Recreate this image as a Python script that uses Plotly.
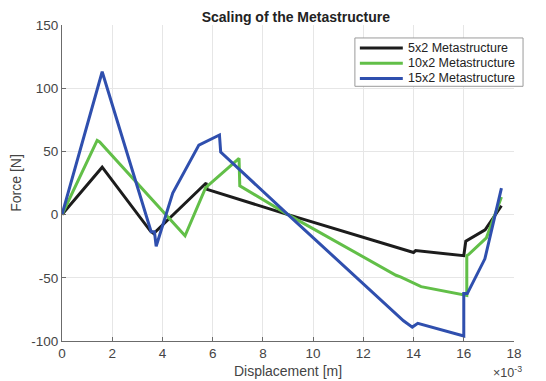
import plotly.graph_objects as go

# Displacement in units of 1e-3 m, force in N
x_5x2 = [0, 1.6, 3.52, 3.65, 5.74, 5.78, 9.0, 14.0, 14.08, 16.0, 16.08, 16.85, 17.5]
y_5x2 = [0, 37.5, -13, -15, 25, 20, 0, -30, -28.5, -32.5, -21, -12, 7]

x_10x2 = [0, 1.4, 1.5, 4.9, 5.72, 7.05, 7.08, 9.0, 13.3, 13.5, 14.3, 16.0, 16.12, 16.12, 16.2, 16.9, 17.5]
y_10x2 = [0, 58.7, 57.5, -16.8, 21.3, 44.5, 22.7, 0, -48, -49.5, -57, -63.7, -64, -32.5, -31.5, -18.4, 14]

x_15x2 = [0, 1.6, 3.55, 3.68, 3.75, 4.41, 5.45, 6.27, 6.32, 9.0, 13.6, 13.95, 14.17, 16.0, 16.0, 16.14, 16.84, 17.5]
y_15x2 = [0, 113, -13.5, -13.5, -25, 17, 55, 63, 49.5, 0, -84, -89, -86, -96, -62.5, -62.5, -35, 21]

series_names = ["5x2 Metastructure", "10x2 Metastructure", "15x2 Metastructure"]
series_colors = ["#1c1c1c", "#62bf48", "#2f4fae"]

x_ticks = [0, 2, 4, 6, 8, 10, 12, 14, 16, 18]
y_ticks = [-100, -50, 0, 50, 100, 150]

FONT = "Liberation Sans, Arial, sans-serif"

fig = go.Figure()
for xs, ys, name, col in zip([x_5x2, x_10x2, x_15x2], [y_5x2, y_10x2, y_15x2], series_names, series_colors):
    fig.add_trace(go.Scatter(x=xs, y=ys, mode="lines", name=name,
                             line=dict(color=col, width=3), showlegend=False))

axis_common = dict(
    showgrid=True, gridcolor="#e6e6e6", gridwidth=1,
    showline=True, linecolor="#6b6b6b", linewidth=1,
    ticks="inside", ticklen=4, tickcolor="#6b6b6b",
    tickfont=dict(family=FONT, size=13.5, color="#444444"),
    zeroline=False, mirror=False, automargin=False,
)

fig.update_layout(
    width=538, height=373,
    margin=dict(l=54, r=32, t=17, b=40, autoexpand=False),
    paper_bgcolor="white", plot_bgcolor="white",
    title=dict(text="<b>Scaling of the Metastructure</b>", x=0.535, xanchor="center",
               y=0.975, yanchor="middle",
               font=dict(family=FONT, size=14, color="#222222")),
    xaxis=dict(range=[0, 18], tickvals=x_ticks, ticktext=[str(v) for v in x_ticks],
               title=dict(text="Displacement [m]", standoff=5,
                          font=dict(family=FONT, size=14, color="#444444")),
               **axis_common),
    yaxis=dict(range=[-100, 150], tickvals=y_ticks, ticktext=[str(v) for v in y_ticks],
               title=dict(text="Force [N]", standoff=10,
                          font=dict(family=FONT, size=14, color="#444444")),
               **axis_common),
    showlegend=False,
)

# Legend box (drawn manually to match the compact MATLAB legend spacing)
fig.add_shape(type="rect", xref="paper", yref="paper", x0=0.648, x1=1.02, y0=0.806, y1=0.959,
              fillcolor="white", line=dict(color="#9a9a9a", width=1), layer="above")
legend_rows = [0.927, 0.879, 0.831]
for name, col, ly in zip(series_names, series_colors, legend_rows):
    fig.add_shape(type="line", xref="paper", yref="paper", x0=0.659, x1=0.754, y0=ly, y1=ly,
                  line=dict(color=col, width=3), layer="above")
    fig.add_annotation(text=name, xref="paper", yref="paper", x=0.762, y=ly,
                       xanchor="left", yanchor="middle", showarrow=False,
                       font=dict(family=FONT, size=12.5, color="#222222"))

fig.add_annotation(text="×10<sup>-3</sup>", xref="paper", yref="paper", x=0.985, y=-0.098,
                   xanchor="center", yanchor="middle", showarrow=False,
                   font=dict(family=FONT, size=12.5, color="#444444"))

fig.write_html("out.html")
